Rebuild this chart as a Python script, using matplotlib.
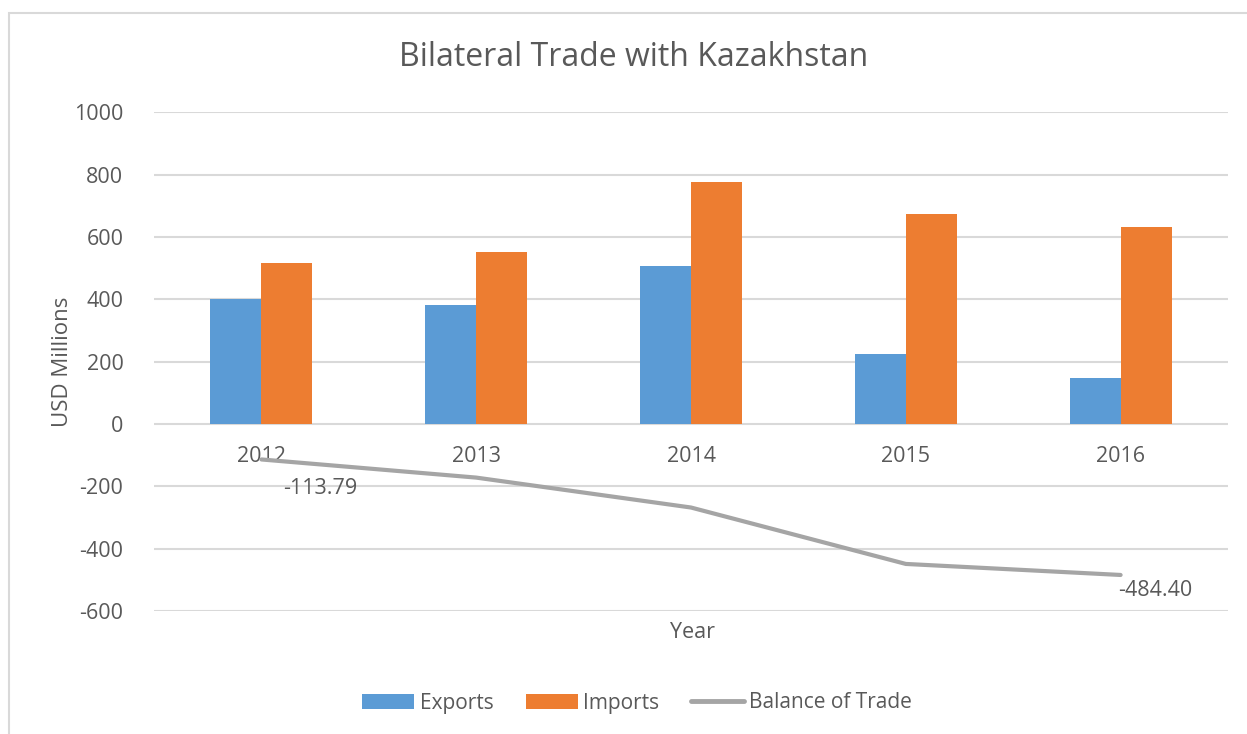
import matplotlib
matplotlib.use("Agg")
import matplotlib.pyplot as plt
from matplotlib.patches import Rectangle, Patch
from matplotlib.lines import Line2D
import numpy as np

years = ["2012", "2013", "2014", "2015", "2016"]
exports = [402.0, 381.0, 507.0, 226.0, 149.0]
imports = [515.8, 553.0, 775.0, 675.0, 633.4]
balance = [-113.79, -172.0, -268.0, -449.0, -484.40]
label_idx = [0, 4]
label_text = ["-113.79", "-484.40"]

TXT = "#595959"
GRID = "#d9d9d9"
C_EXP = "#5b9bd5"
C_IMP = "#ed7d31"
C_BAL = "#a5a5a5"

plt.rcParams["font.family"] = ["Open Sans", "DejaVu Sans"]
plt.rcParams["axes.unicode_minus"] = False

W, H = 1247, 734
fig = plt.figure(figsize=(W / 100, H / 100), dpi=100)
fig.patch.set_facecolor("white")

# chart frame
fig.patches.append(Rectangle((9 / W, -0.1), 1.2, 1 - 13 / H + 0.1,
                             transform=fig.transFigure, fill=False,
                             edgecolor=GRID, lw=1.5, clip_on=False))

ax = fig.add_axes([154 / W, 1 - 611 / H, (1228 - 154) / W, (611 - 112.3) / H])
x = np.arange(len(years))
bw = 0.2375
ax.bar(x - bw / 2, exports, width=bw, color=C_EXP, zorder=3, label="Exports")
ax.bar(x + bw / 2, imports, width=bw, color=C_IMP, zorder=3, label="Imports")
ax.plot(x, balance, color=C_BAL, lw=3, zorder=4, solid_capstyle="round",
        label="Balance of Trade")

offsets = [(22, -29), (-2, -16)]
for i, t, off in zip(label_idx, label_text, offsets):
    ax.annotate(t, (x[i], balance[i]), xytext=off, textcoords="offset pixels",
                ha="left", va="center", fontsize=15.5, color=TXT, zorder=5)

ax.set_xlim(-0.5, len(years) - 0.5)
ax.set_ylim(-600, 1000)
ax.set_yticks(np.arange(-600, 1001, 200))
ax.yaxis.grid(True, color=GRID, lw=1.5, zorder=0)
ax.set_axisbelow(True)
for s in ["top", "right", "left"]:
    ax.spines[s].set_visible(False)
ax.spines["bottom"].set_position(("data", 0))
ax.spines["bottom"].set_visible(False)
ax.set_xticks(x)
ax.set_xticklabels(years)
ax.tick_params(axis="x", length=0, pad=16, labelsize=15.5, labelcolor=TXT)
ax.tick_params(axis="y", length=0, pad=22, labelsize=15.5, labelcolor=TXT)
ax.set_facecolor("none")

fig.text(692 / W, 1 - 632 / H, "Year", ha="center", va="center",
         fontsize=15.5, color=TXT)
fig.text(62 / W, 1 - 361.6 / H, "USD Millions", ha="center", va="center",
         rotation=90, fontsize=16, color=TXT)
fig.text(633.5 / W, 1 - 57 / H, "Bilateral Trade with Kazakhstan", ha="center",
         va="center", fontsize=23, color=TXT)

handles = [Patch(facecolor=C_EXP, edgecolor="none"),
           Patch(facecolor=C_IMP, edgecolor="none"),
           Line2D([], [], color=C_BAL, lw=3.5, solid_capstyle="round")]
leg = fig.legend(handles, ["Exports", "Imports", "Balance of Trade"],
                 loc="center", bbox_to_anchor=(637 / W, 1 - 703 / H), ncol=3,
                 frameon=False, fontsize=15, handlelength=2.5,
                 handleheight=0.7, handletextpad=0.25, columnspacing=1.55)
for t in leg.get_texts():
    t.set_color(TXT)

fig.savefig("out.png", dpi=100)
